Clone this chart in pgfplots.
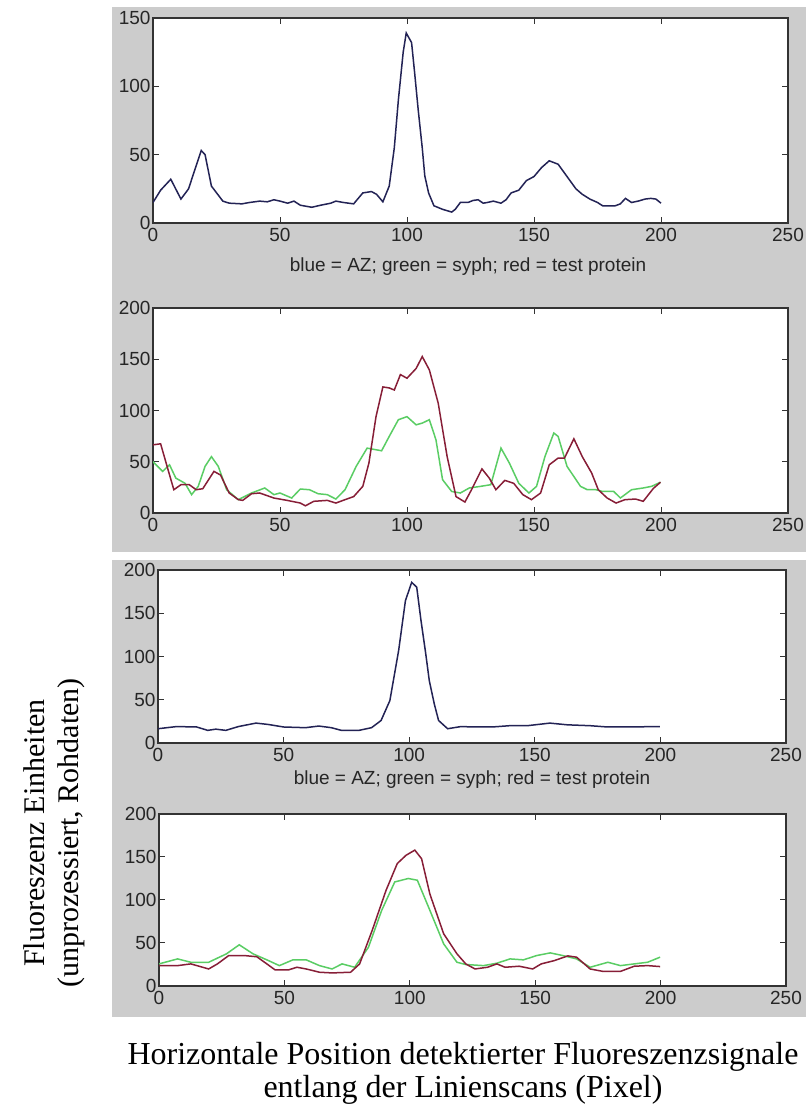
\documentclass[border=0pt]{standalone}
\usepackage{pgfplots}
\pgfplotsset{compat=1.18}
\usepackage{fontspec}
\setmainfont{Liberation Serif}
\setsansfont{Liberation Sans}
\definecolor{figgrey}{RGB}{204,204,204}
\definecolor{azblue}{RGB}{35,35,85}
\definecolor{synred}{RGB}{135,30,55}
\definecolor{syngreen}{RGB}{90,205,100}
\pgfplotsset{
  mlab/.style={
    scale only axis, anchor=south west,
    xmin=0, xmax=250, xtick={0,50,100,150,200,250},
    ymin=0,
    tick align=inside, tick pos=both, xticklabel pos=left, yticklabel pos=left,
    major tick length=6pt,
    axis line style={black!80, line width=1.2pt},
    tick style={black!80, line width=1pt},
    axis background/.style={fill=white},
    every tick label/.append style={font=\sffamily\fontsize{19}{19}\selectfont, text=black!85},
    xticklabel style={yshift=-2pt},
    yticklabel style={xshift=1pt},
    /pgf/number format/assume math mode=true,
  },
  sig/.style={line width=1.5pt, sharp plot, mark=none},
}
\begin{document}
\begin{tikzpicture}
\useasboundingbox (0,0) rectangle (806pt,1111pt);
\fill[figgrey] (112pt,559pt) rectangle (806pt,1104pt);
\fill[figgrey] (112pt,94pt) rectangle (806pt,551pt);

% Panel A1
\begin{axis}[mlab, at={(153pt,888pt)}, width=635pt, height=205pt, ymax=150, ytick={0,50,100,150}]
\addplot[sig, azblue] coordinates {
(0,15) (3,24) (7,32) (11,17.5) (14,25) (17,42) (19,53) (20.5,50) (23,27) (27.5,16) (30,14.5)
(35,14) (38,15) (42,16) (45,15.5) (47.6,17) (50,16) (53,14.5) (55.5,16) (58,13) (62.5,11.5)
(66,13) (70,14.5) (72,16) (75,15) (79,14) (82.6,22) (86,23) (88,21) (90.5,15.5) (93,27)
(95,55) (96.6,90) (98.5,125) (99.7,139) (101.8,132) (103,110) (104.4,83) (106,55) (107,34.5) (108.5,22)
(110.6,12.6) (114,10) (117.6,8) (119,10) (121,15) (124,15) (126,16.5) (128,17) (130,14.5) (131.6,15)
(134,16) (137,14.5) (139,17) (141,22) (144,24) (147,31) (150,34) (153,40.6) (156,45.5) (159.5,43)
(163,34) (166.5,25) (169,21) (172,17.5) (175,15) (177,12.6) (182,12.6) (184,14) (186,18)
(188.4,15) (191,16) (193.7,17.5) (196,18) (198,17.5) (200,14.5)
};
\end{axis}
\node[font=\sffamily\fontsize{19}{19}\selectfont, text=black!85] at (468pt,844pt) {blue = AZ; green = syph; red = test protein};

% Panel A2
\begin{axis}[mlab, at={(153pt,598pt)}, width=635pt, height=205pt, ymax=200, ytick={0,50,100,150,200}]
\addplot[sig, syngreen] coordinates {
(0,50) (3.8,40.6) (6.5,47) (9,34) (12.6,29) (15.2,17.9) (17.8,26) (20.5,45.5) (23,55) (25.7,45.5)
(29,22.7) (33.6,13) (38.8,19.5) (44,24.4) (47.6,17.9) (50,19.5) (54.6,14.6) (58,23.4) (61.6,22.7)
(65,18.8) (68.6,17.9) (72,13.6) (75.6,22.7) (80,45.5) (84.3,63.3) (87.8,61.7) (90,60.7) (93,74.7)
(96.6,91) (100,94) (103.6,86) (106,87.7) (108.8,91) (111.4,71.4) (114,32.5) (117.6,21) (121,19.5)
(124.5,24.4) (129,26) (133,27.6) (137,63.3) (140.3,48.7) (144,29) (148,19.5) (151,26) (154.3,55)
(157.8,78) (159.5,74.7) (163,45.5) (168.3,26) (171,22.7) (174.4,22.7) (177,21) (181.4,21) (184,14.6)
(188.4,22.7) (193,24.4) (196.3,26) (199.8,30)
};
\addplot[sig, synred] coordinates {
(0,66.5) (3,67.5) (5.6,45) (8.2,22.7) (11,27.6) (14.3,27.6) (17,22.7) (19.6,23.7) (24,40.6) (26.6,37)
(30,19.5) (33.6,13) (35.3,12.3) (38.8,18.8) (42,19.5) (47.6,14.6) (52.8,12.3) (58,9.7) (60,7)
(63.3,11.4) (68.6,12.3) (72,9.7) (75.6,13) (79,16) (82.6,26) (85,48.7) (87.8,94) (90.5,123) (93,122)
(95,120) (97.4,135) (100,131.5) (103.6,141) (106,152.6) (108.8,139.6) (112.3,107) (115.8,55) (119.3,16)
(122.8,10.7) (125.4,22.7) (129.5,43) (132.4,34) (135,22.7) (138.5,31.8) (142,29) (145.6,17.9) (149,13)
(152.6,19.5) (156,47) (159.5,53.6) (162,53.6) (165.7,72.4) (169,55) (172.7,39) (175.3,22.7) (178.8,14.6)
(182.3,9.7) (185.8,13) (190,13.6) (193,11.4) (197,24) (199.8,30)
};
\end{axis}

% Panel A3
\begin{axis}[mlab, at={(158pt,368pt)}, width=628pt, height=173pt, ymax=200, ytick={0,50,100,150,200}]
\addplot[sig, azblue] coordinates {
(0,16.5) (7.4,19) (15.4,18.5) (19.8,14.6) (23,16) (27,14.6) (32,19) (39,23) (43.7,21.5) (50,18.5)
(58.7,17.7) (64,19.6) (69,17.7) (73,14.6) (80,14.6) (85,17.7) (88.8,26) (92.3,49) (95.8,107)
(98.5,164.6) (101,185.8) (103,180) (104.7,141.5) (106.5,105) (108,72) (110,45) (111.7,26) (115.3,16.5)
(120.6,19) (126,18.5) (133,18.5) (140,20) (147,20) (156,23) (163,21) (172,20) (179,18.5) (189.5,18.5)
(196.6,19) (199.8,19)
};
\end{axis}
\node[font=\sffamily\fontsize{19}{19}\selectfont, text=black!85] at (472pt,331pt) {blue = AZ; green = syph; red = test protein};

% Panel A4
\begin{axis}[mlab, at={(159pt,125pt)}, width=627pt, height=172pt, ymax=200, ytick={0,50,100,150,200}]
\addplot[sig, syngreen] coordinates {
(0,25.7) (7.4,31.5) (12.7,27.6) (19.8,27.6) (26.9,37.4) (32,47.9) (37.5,37.4) (43,30.4) (48,23.7)
(53.4,30.4) (58.7,30.4) (64,23.7) (69,19.8) (73,25.7) (78,21.8) (83.5,45) (88.8,88) (94,121) (99.4,125)
(103,123) (108,88) (113.5,49) (118.8,27.6) (122.3,25) (129.4,23.7) (134.7,26.5) (140,31.5) (145.3,30.4)
(150.6,35.4) (156,38.5) (161,35.4) (166.5,31.5) (171.9,21.8) (179,27.6) (184,23.7) (189.5,25.7)
(194.8,27.6) (199.8,33.5)
};
\addplot[sig, synred] coordinates {
(0,23.7) (7.4,23.7) (12.7,25.7) (19.8,19.8) (23.3,25.7) (27.8,35.4) (34,35.4) (39,34) (43,25.7)
(46.3,18.7) (51.6,18.7) (55,21.8) (58.7,19.8) (64,16) (69,15.2) (76.4,16) (80,25.7) (85,64.6)
(90.5,111) (95,142.4) (98.5,152) (102,158) (104.7,148) (108,107) (113.5,60.7) (118.8,37.4) (122.3,25.7)
(126,19.8) (131,21.8) (134.7,25.7) (138,21.8) (143.6,23) (149,19.8) (152.4,25.7) (157.7,29.6) (163,35)
(166.5,33.5) (171.9,19.8) (177,17) (184,17) (189.5,23) (194.8,23.7) (199.8,22.6)
};
\end{axis}

\node[rotate=90, align=center, font=\fontsize{30}{34}\selectfont] at (54pt,278pt) {Fluoreszenz Einheiten\\(unprozessiert, Rohdaten)};
\node[align=center, font=\fontsize{32}{33}\selectfont] at (463pt,38pt) {Horizontale Position detektierter Fluoreszenzsignale\\entlang der Linienscans (Pixel)};
\end{tikzpicture}
\end{document}
